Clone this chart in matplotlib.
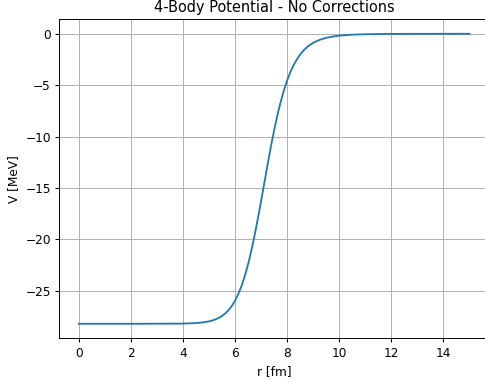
import matplotlib
matplotlib.use('Agg')
import matplotlib.pyplot as plt

# radius [fm] and potential [MeV] samples
r = [0.0, 1.0, 2.0, 3.0, 4.0, 4.5, 4.75,
     5.0, 5.125, 5.25, 5.375, 5.5, 5.625, 5.75, 5.875,
     6.0, 6.125, 6.25, 6.375, 6.5, 6.625, 6.75, 6.875,
     7.0, 7.125, 7.25, 7.375, 7.5, 7.625, 7.75, 7.875,
     8.0, 8.125, 8.25, 8.375, 8.5, 8.625, 8.75, 8.875,
     9.0, 9.25, 9.5, 9.75, 10.0, 10.5, 11.0, 11.5, 12.0,
     13.0, 14.0, 15.0]
V = [-28.20, -28.20, -28.20, -28.19, -28.18, -28.13, -28.07,
     -27.96, -27.88, -27.77, -27.62, -27.43, -27.18, -26.87, -26.46,
     -25.94, -25.29, -24.50, -23.53, -22.39, -21.07, -19.58, -17.95,
     -16.23, -14.45, -12.68, -10.97, -9.37, -7.91, -6.62, -5.49,
     -4.52, -3.71, -3.03, -2.47, -2.01, -1.632, -1.326, -1.079,
     -0.878, -0.584, -0.392, -0.265, -0.181, -0.087, -0.044, -0.023, -0.013,
     -0.004, -0.002, -0.001]

dpi = 87
fig = plt.figure(figsize=(485 / dpi, 382 / dpi), dpi=dpi)
ax = fig.add_axes([0.1223, 0.1144, 0.886, 0.8351])

ax.plot(r, V)
ax.grid(True)

ax.set_title('4-Body Potential - No Corrections')
ax.set_xlabel('r [fm]')
ax.set_ylabel('V [MeV]')

fig.savefig('out.png', dpi=dpi)
